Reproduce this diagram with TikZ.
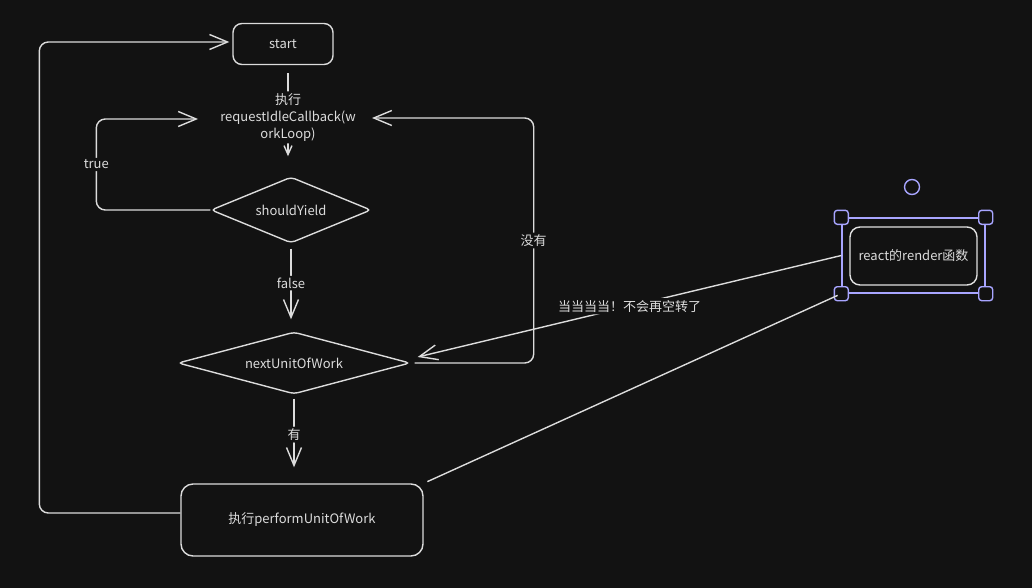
\documentclass[tikz,border=0pt]{standalone}
\usepackage{fontspec}
\setmainfont{Noto Sans CJK SC}
\usetikzlibrary{arrows.meta,shapes.geometric,positioning}
\definecolor{bgdark}{HTML}{121212}
\definecolor{inkgray}{HTML}{DCDCDC}
\definecolor{selpurple}{HTML}{A8A5FF}
\tikzset{
  flowbox/.style={draw=inkgray, line width=1.4pt, rounded corners=9pt, text=inkgray},
  decision/.style={diamond, draw=inkgray, line width=1.4pt, rounded corners=4pt,
    inner sep=0pt, text=inkgray},
  flowline/.style={draw=inkgray, line width=1.4pt, rounded corners=9pt},
  bigbarb/.style={-{Straight Barb[length=18pt,width=15pt,line width=1.4pt]}},
  smallbarb/.style={-{Straight Barb[length=9pt,width=8pt,line width=1.4pt]}},
  lbl/.style={fill=bgdark, text=inkgray, inner sep=2pt},
  handle/.style={draw=selpurple, fill=bgdark, line width=1.4pt, rounded corners=3pt,
    minimum size=14pt, inner sep=0pt}
}
\begin{document}
\begin{tikzpicture}[x=1pt, y=-1pt, font=\fontsize{13}{17}\selectfont]
  \def\lw{1.4pt}
  \fill[bgdark] (0,0) rectangle (1032,588);
  \useasboundingbox (0,0) rectangle (1032,588);

  % main column
  \node[flowbox, minimum width=100pt, minimum height=41pt] (start) at (283,44) {start};
  \node[decision, aspect=2.42, minimum width=160pt, minimum height=66pt] (yield)
    at (291,210) {shouldYield};
  \node[decision, aspect=3.74, minimum width=232pt, minimum height=62pt] (next)
    at (294,363) {nextUnitOfWork};
  \node[flowbox, rounded corners=12pt, minimum width=242pt, minimum height=72pt] (perform)
    at (302,520) {执行performUnitOfWork};

  % selected render box
  \node[draw=selpurple, line width=\lw, minimum width=143pt, minimum height=75pt] (sel)
    at (913.5,255.5) {};
  \node[flowbox, draw=inkgray!85, rounded corners=10pt, minimum width=127pt,
    minimum height=58pt] (react) at (913.5,256) {react的render函数};
  \foreach \c in {north west, north east, south west, south east}
    \node[handle] at (sel.\c) {};
  \node[circle, draw=selpurple, line width=\lw, minimum size=15pt, inner sep=0pt] (rotor)
    at (912,187) {};

  \coordinate (trueTip) at (198,119);
  \coordinate (noTip) at (372,118);

  % arrows
  \draw[flowline, smallbarb, shorten <=8pt, shorten >=20pt] ([xshift=5pt]start.south) --
    node[lbl, pos=0.47, align=center]{执行\\requestIdleCallback(w\\orkLoop)}
    ([xshift=5pt]start.south |- yield.north);
  \draw[flowline, bigbarb, shorten <=5pt, shorten >=12pt] (yield.south) --
    node[lbl, pos=0.45]{false} (yield.south |- next.north);
  \draw[flowline, bigbarb, shorten <=4pt, shorten >=16pt] (next.south) --
    node[lbl, pos=0.45]{有} (next.south |- perform.north);
  \draw[flowline, bigbarb] (yield.west) -- ++(-114,0) |- node[lbl, pos=0.25]{true} (trueTip);
  \draw[flowline, bigbarb, shorten <=4pt] (next.east) -- ++(123,0) |-
    node[lbl, pos=0.25]{没有} (noTip);
  \draw[flowline, bigbarb, shorten >=3pt] ([yshift=7pt]perform.west) -- ++(-141,0) |-
    ([yshift=2pt]start.west);
  \draw[flowline, bigbarb] (sel.west) --
    node[lbl]{当当当当！不会再空转了} ([shift={(7pt,6pt)}]next.east);
  \draw[flowline, shorten <=4pt, shorten >=4pt] (perform.north east) -- (sel.south west);
\end{tikzpicture}
\end{document}
